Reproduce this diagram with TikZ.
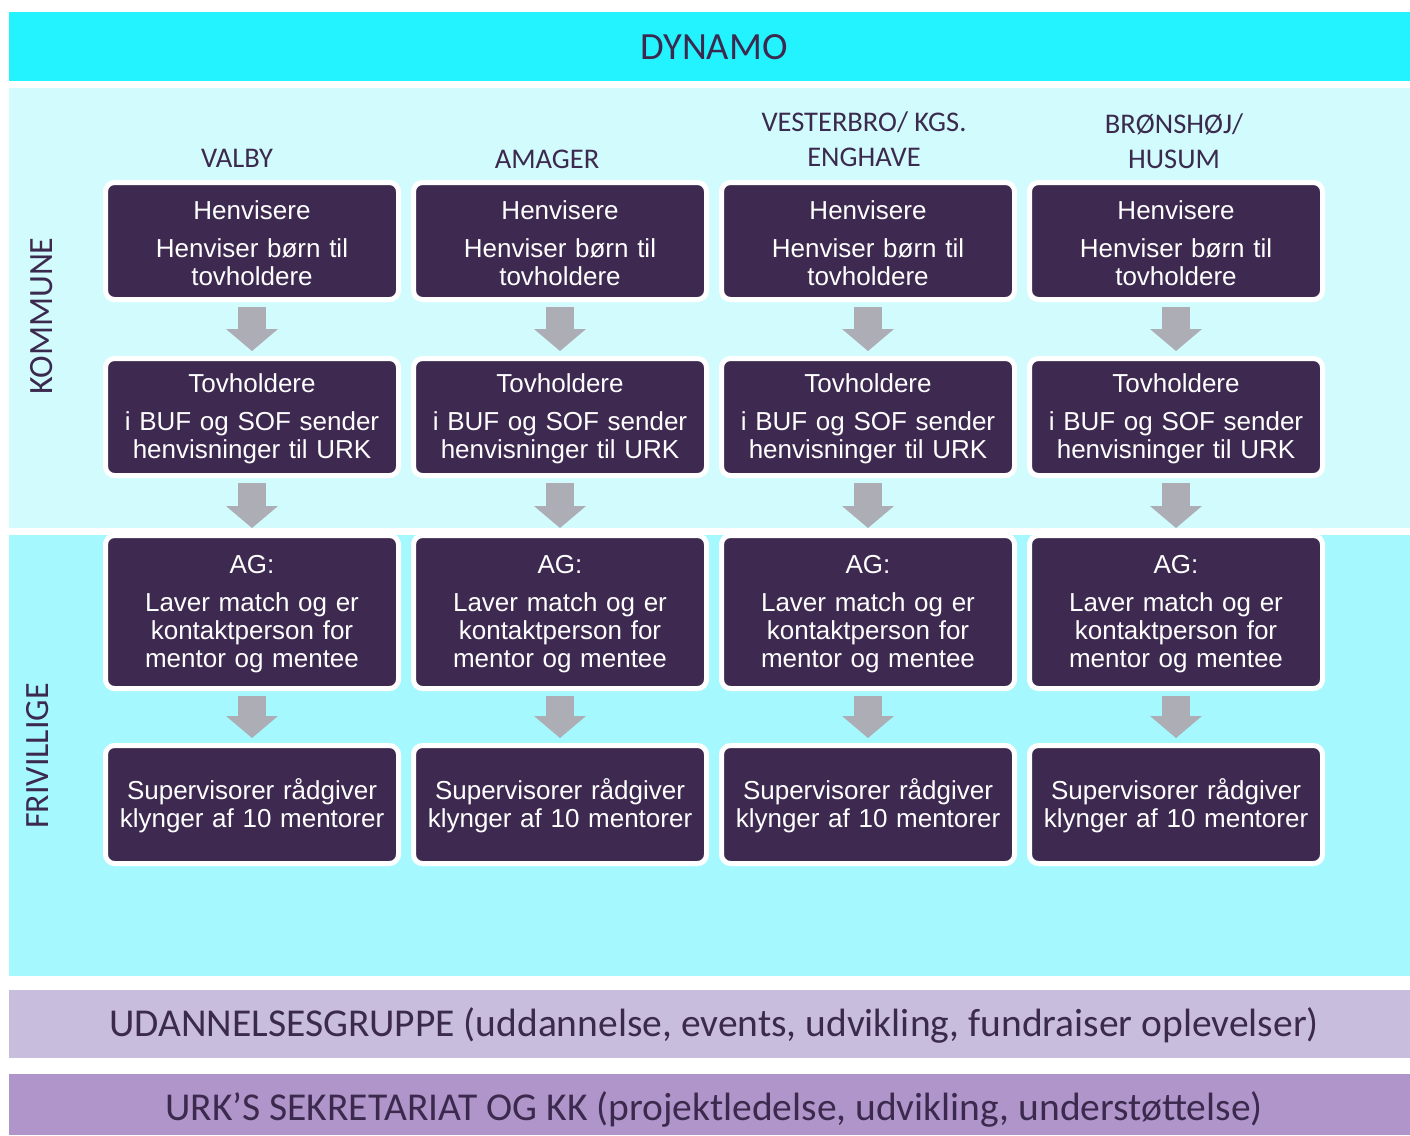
\documentclass[tikz,border=0pt]{standalone}
\usepackage{fontspec}
\setmainfont{Liberation Sans}
\newfontfamily\hdr{Carlito}
\usetikzlibrary{arrows.meta,calc}
\definecolor{topcyan}{HTML}{22F3FF}
\definecolor{kombg}{HTML}{D2FBFE}
\definecolor{fribg}{HTML}{A6F8FF}
\definecolor{udbg}{HTML}{C8BDDC}
\definecolor{urkbg}{HTML}{B095CA}
\definecolor{boxpurple}{HTML}{3E2950}
\definecolor{hdrtext}{HTML}{3B2A4E}
\definecolor{arrowgray}{HTML}{ADADB5}
\begin{document}
\begin{tikzpicture}[x=1pt,y=-1pt,
  box/.style={draw=white, line width=5pt, fill=boxpurple, rounded corners=9pt,
    minimum width=293pt, text width=285pt, align=center, text=white,
    font=\fontsize{26}{28}\selectfont, inner sep=0pt,
    execute at begin node={\rule{0pt}{23pt}}},
  flow/.style={draw=arrowgray, line width=28pt,
    -{Triangle[width=52pt,length=22pt,line width=0pt]},
    shorten <=5pt, shorten >=5pt},
  colhead/.style={text=hdrtext, font=\hdr\fontsize{28.5}{35}\selectfont, align=center, inner sep=0pt},
  bandtext/.style={text=hdrtext, font=\hdr\fontsize{39.5}{42}\selectfont, inner sep=0pt},
  sidetext/.style={text=hdrtext, font=\hdr\fontsize{34}{36}\selectfont, inner sep=0pt, rotate=90}]
\useasboundingbox (0,0) rectangle (1410,1135);
\fill[white] (0,0) rectangle (1410,1135);
% bands
\fill[topcyan] (9,12) rectangle (1410,81);
\fill[kombg] (9,88) rectangle (1410,528);
\fill[fribg] (9,535) rectangle (1410,976);
\fill[udbg] (9,990) rectangle (1410,1058);
\fill[urkbg] (9,1074) rectangle (1410,1135);
\node[bandtext, font=\hdr\fontsize{38.5}{40}\selectfont] (dynamo) at (714,47) {DYNAMO};
\node[bandtext] (udd) at (714,1025) {UDANNELSESGRUPPE (uddannelse, events, udvikling, fundraiser oplevelser)};
\node[bandtext] (urk) at (714,1109) {URK’S SEKRETARIAT OG KK (projektledelse, udvikling, understøttelse)};
\node[sidetext] (kommune) at (42,316) {KOMMUNE};
\node[sidetext] (frivillige) at (38,756) {FRIVILLIGE};
% column headers
\node[colhead] (h1) at (237,158) {VALBY};
\node[colhead] (h2) at (547,159) {AMAGER};
\node[colhead] (h3) at (864,139.5) {VESTERBRO/ KGS.\\ENGHAVE};
\node[colhead] (h4) at (1174,141.5) {BRØNSHØJ/\\HUSUM};
% boxes
\foreach \i/\x in {1/252,2/560,3/868,4/1176}{
  \node[box, minimum height=117pt] (a\i) at (\x,241) {Henvisere\\[10pt]Henviser børn til\\tovholdere};
  \node[box, minimum height=117pt] (b\i) at (\x,417) {Tovholdere\\[10pt]i BUF og SOF sender\\henvisninger til URK};
  \node[box, minimum height=153pt] (c\i) at (\x,612) {AG:\\[10pt]Laver match og er\\kontaktperson for\\mentor og mentee};
  \node[box, minimum height=118pt] (d\i) at (\x,804.5) {Supervisorer rådgiver\\klynger af 10 mentorer};
  \draw[flow] (a\i) -- (b\i);
  \draw[flow] (b\i) -- (c\i);
  \draw[flow] (c\i) -- (d\i);
}
\end{tikzpicture}
\end{document}
